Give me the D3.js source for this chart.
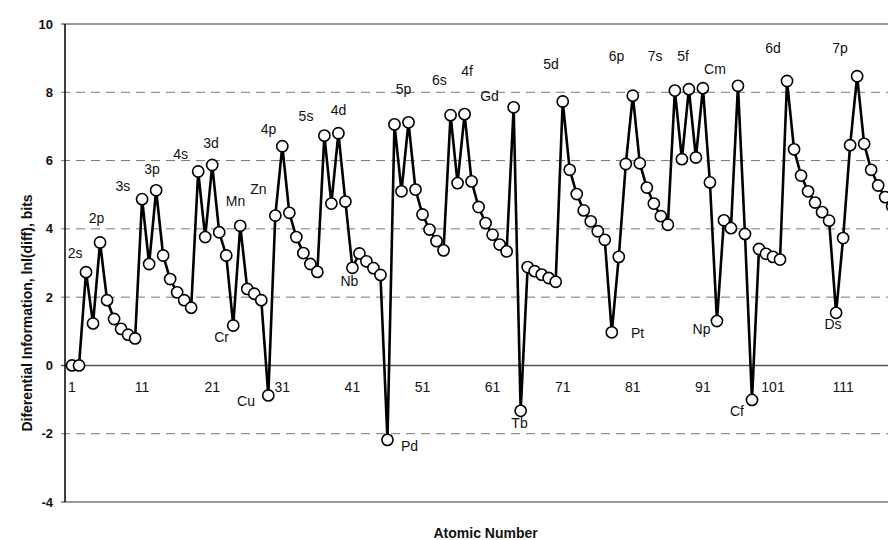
<!DOCTYPE html>
<html>
<head>
<meta charset="utf-8">
<script src="https://cdn.jsdelivr.net/npm/d3@7"></script>
<style>
  body { margin: 0; background: #fff; }
  text { font-family: Arial, "Liberation Sans", sans-serif; fill: #111; }
</style>
</head>
<body>
<svg id="chart" width="888" height="540"></svg>
<script>
// differential information per element, Z = 1..118
const diffInfo = [
  0, 0, 2.73, 1.23, 3.6, 1.91, 1.36, 1.07, 0.9, 0.79,
  4.87, 2.97, 5.13, 3.22, 2.53, 2.14, 1.91, 1.69, 5.68, 3.76,
  5.87, 3.9, 3.22, 1.17, 4.09, 2.24, 2.1, 1.91, -0.88, 4.39,
  6.42, 4.47, 3.76, 3.29, 2.97, 2.74, 6.73, 4.74, 6.8, 4.8,
  2.86, 3.28, 3.05, 2.85, 2.65, -2.18, 7.06, 5.1, 7.12, 5.15,
  4.42, 3.98, 3.64, 3.37, 7.33, 5.34, 7.36, 5.39, 4.64, 4.17,
  3.83, 3.54, 3.34, 7.56, -1.33, 2.88, 2.76, 2.66, 2.56, 2.45,
  7.73, 5.73, 5.02, 4.54, 4.22, 3.93, 3.68, 0.97, 3.18, 5.9,
  7.9, 5.92, 5.21, 4.74, 4.37, 4.12, 8.05, 6.04, 8.09, 6.09,
  8.12, 5.36, 1.3, 4.25, 4.02, 8.19, 3.85, -1.01, 3.41, 3.27,
  3.18, 3.1, 8.33, 6.33, 5.56, 5.1, 4.77, 4.49, 4.24, 1.54,
  3.73, 6.45, 8.47, 6.49, 5.73, 5.27, 4.93, 4.66
];
const xTicks = [1, 11, 21, 31, 41, 51, 61, 71, 81, 91, 101, 111];
const yTicks = [-4, -2, 0, 2, 4, 6, 8, 10];

// annotation text and where it sits, in chart units (atomic number, bits)
const noteText = ["2s","2p","3s","3p","4s","3d","Mn","Zn","4p","Cr","Cu",
  "5s","4d","Nb","5p","Pd","6s","4f","Gd","Tb","5d",
  "6p","Pt","7s","5f","Cm","Np","Cf","6d","7p","Ds"];
const noteZ = [1.43,4.49,8.27,12.41,16.48,20.83,24.32,27.6,29.03,22.33,25.82,
  34.38,39.02,40.58,48.29,49.14,53.42,57.35,60.56,64.84,69.33,
  78.67,81.67,84.17,88.16,92.72,90.8,95.86,101,110.56,109.56];
const noteVal = [3.28,4.31,5.24,5.74,6.18,6.5,4.82,5.16,6.91,0.82,-1.04,
  7.29,7.48,2.48,8.1,-2.36,8.35,8.61,7.88,-1.7,8.82,
  9.07,0.94,9.07,9.07,8.67,1.05,-1.35,9.28,9.28,1.2];

const svg = d3.select('#chart');
const x = d3.scaleLinear().domain([0, 120]).range([65, 906.2]);
const y = d3.scaleLinear().domain([-4, 10]).range([502, 24]);

// grid lines
svg.append('g').selectAll('line')
  .data(yTicks)
  .enter().append('line')
  .attr('x1', 61).attr('x2', 888)
  .attr('y1', d => y(d)).attr('y2', d => y(d))
  .attr('stroke', d => d === 0 ? '#555' : '#777')
  .attr('stroke-width', d => (d === 0 || d === 10 || d === -4) ? 1.4 : 1)
  .attr('stroke-dasharray', d => (d === 0 || d === 10 || d === -4) ? null : '9,6');

// left axis
svg.append('line')
  .attr('x1', x(0)).attr('x2', x(0))
  .attr('y1', y(10)).attr('y2', y(-4))
  .attr('stroke', '#000').attr('stroke-width', 1.5);

// y tick labels
svg.append('g').selectAll('text')
  .data(yTicks)
  .enter().append('text')
  .attr('x', 53).attr('y', d => y(d)).attr('dy', '0.35em')
  .attr('text-anchor', 'end')
  .style('font-size', '13px').style('font-weight', 'bold')
  .text(d => d);

// x tick labels next to the zero line
svg.append('g').selectAll('text')
  .data(xTicks)
  .enter().append('text')
  .attr('x', d => x(d)).attr('y', y(0) + 22).attr('dy', '0.35em')
  .attr('text-anchor', 'middle')
  .style('font-size', '14px')
  .text(d => d);

// axis titles
svg.append('text')
  .attr('transform', 'translate(27,313) rotate(-90)')
  .attr('text-anchor', 'middle').attr('dy', '0.35em')
  .style('font-size', '14px').style('font-weight', 'bold')
  .text('Diferential Information, lnl(diff), bits');

svg.append('text')
  .attr('x', (x(0) + x(120)) / 2).attr('y', 533).attr('dy', '0.35em')
  .attr('text-anchor', 'middle')
  .style('font-size', '14px').style('font-weight', 'bold')
  .text('Atomic Number');

// the series
const line = d3.line()
  .x((d, i) => x(i + 1))
  .y(d => y(d));

svg.append('path')
  .datum(diffInfo)
  .attr('d', line)
  .attr('fill', 'none')
  .attr('stroke', '#000')
  .attr('stroke-width', 2.6)
  .attr('stroke-linejoin', 'round');

svg.append('g').selectAll('circle')
  .data(diffInfo)
  .enter().append('circle')
  .attr('cx', (d, i) => x(i + 1))
  .attr('cy', d => y(d))
  .attr('r', 5.6)
  .attr('fill', '#fff')
  .attr('stroke', '#000')
  .attr('stroke-width', 1.6);

// shell / element notes
svg.append('g').selectAll('text')
  .data(noteText)
  .enter().append('text')
  .attr('x', (d, i) => x(noteZ[i]))
  .attr('y', (d, i) => y(noteVal[i]))
  .attr('dy', '0.35em')
  .attr('text-anchor', 'middle')
  .style('font-size', '14px')
  .text(d => d);
</script>
</body>
</html>
